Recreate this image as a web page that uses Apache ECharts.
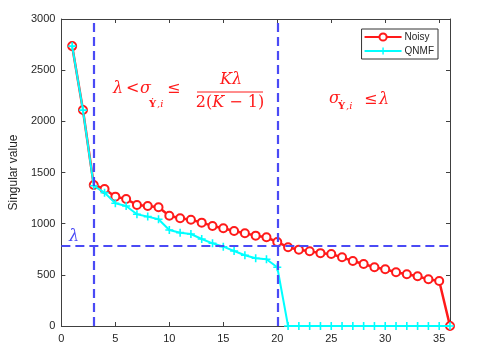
<!DOCTYPE html>
<html><head><meta charset="utf-8">
<script src="https://cdn.jsdelivr.net/npm/echarts@6/dist/echarts.min.js"></script>
<style>html,body{margin:0;padding:0;background:#fff}#c{width:479px;height:359px}</style>
</head><body><div id="c"></div>
<script>
const idx = [1,2,3,4,5,6,7,8,9,10,11,12,13,14,15,16,17,18,19,20,21,22,23,24,25,26,27,28,29,30,31,32,33,34,35,36];
const noisy = [2735,2110,1378,1339,1264,1241,1183,1173,1160,1078,1053,1039,1010,978,955,929,906,883,867,821,769,746,730,712,704,671,635,606,574,554,525,505,486,456,440,0];
const qnmf = [2735,2110,1370,1303,1199,1173,1092,1069,1043,938,912,899,850,808,775,733,691,662,652,574,0,0,0,0,0,0,0,0,0,0,0,0,0,0,0,0];
const lambdaVal = 782;
const vLines = [3, 20];

const chart = echarts.init(document.getElementById('c'));
const axisCol = '#404040';
const txtCol = '#262626';
const blue = '#4a4af5';
const red = '#ff1a1a';
const plusPath = 'path://M4,0H6V4H10V6H6V10H4V6H0V4H4Z';
const serif = '"DejaVu Serif", "Liberation Serif", serif';

function t(x, y, s, opts) {
  return Object.assign({type:'text', x:x, y:y, style:Object.assign({text:s, fill:red, font:'italic 16px ' + serif, textVerticalAlign:'middle'}, opts || {})});
}
const g = [];
// first annotation
g.push(t(113, 89, 'λ'));
g.push(t(126, 89, '<', {font:'16px ' + serif}));
g.push(t(140, 89, 'σ'));
g.push(t(149, 104, 'Ẏ', {font:'bold 10px ' + serif}));
g.push(t(157, 104, ',i', {font:'italic 10px ' + serif}));
g.push(t(167, 89, '≤', {font:'16px ' + serif}));
g.push({type:'line', shape:{x1:197, y1:92, x2:263, y2:92}, style:{stroke:red, lineWidth:1}});
g.push(t(231, 80, 'Kλ', {textAlign:'center'}));
g.push({type:'text', x:230, y:103, style:{
  text:'{u|2(}{i|K}{u| − 1)}', textAlign:'center', textVerticalAlign:'middle',
  rich:{u:{fontFamily:serif, fontSize:16, fill:red, color:red}, i:{fontFamily:serif, fontSize:16, fontStyle:'italic', fill:red, color:red}}
}});
// second
g.push(t(329, 99, 'σ'));
g.push(t(338, 106, 'Ẏ', {font:'bold 10px ' + serif}));
g.push(t(346, 106, ',i', {font:'italic 10px ' + serif}));
g.push(t(364, 100, '≤', {font:'16px ' + serif}));
g.push(t(379, 100, 'λ'));
// blue lambda
g.push(t(69, 237, 'λ', {fill:blue}));

const xAxisBase = {type:'value', min:0, max:36, interval:5,
  axisLine:{show:true, onZero:false, lineStyle:{color:axisCol}},
  axisTick:{show:true, inside:true, length:4, lineStyle:{color:axisCol}},
  splitLine:{show:false}};
const yAxisBase = {type:'value', min:0, max:3000, interval:500,
  axisLine:{show:true, onZero:false, lineStyle:{color:axisCol}},
  axisTick:{show:true, inside:true, length:4, lineStyle:{color:axisCol}},
  splitLine:{show:false}};

chart.setOption({
  animation:false,
  backgroundColor:'#fff',
  grid:{left:59, right:29, top:19, bottom:33, containLabel:false},
  xAxis:[
    Object.assign({}, xAxisBase, {position:'bottom', axisLabel:{color:txtCol, fontSize:11, fontFamily:'Liberation Sans, Arial', margin:7, showMaxLabel:false}}),
    Object.assign({}, xAxisBase, {position:'top', axisLabel:{show:false}})
  ],
  yAxis:[
    Object.assign({}, yAxisBase, {position:'left', name:'Singular value', nameLocation:'middle', nameGap:37,
      nameTextStyle:{color:txtCol, fontSize:12, fontFamily:'Liberation Sans, Arial'},
      axisLabel:{color:txtCol, fontSize:11, fontFamily:'Liberation Sans, Arial', margin:6, formatter:v=>String(v)}}),
    Object.assign({}, yAxisBase, {position:'right', axisLabel:{show:false}})
  ],
  legend:{orient:'vertical', right:41, top:29, padding:[3,4,3,2], itemGap:4, itemWidth:37, itemHeight:9,
    backgroundColor:'#fff', borderColor:'#333', borderWidth:1, borderRadius:0,
    textStyle:{color:txtCol, fontSize:10, fontFamily:'Liberation Sans, Arial', padding:[0,0,0,-2]},
    data:['Noisy','QNMF']},
  series:[
    {name:'Noisy', type:'line', data: idx.map((x,i)=>[x, noisy[i]]), symbol:'emptyCircle', symbolSize:8,
      lineStyle:{color:red, width:2.5}, itemStyle:{color:red, borderWidth:2}, z:3,
      markLine:{silent:true, symbol:'none', label:{show:false},
        lineStyle:{color:blue, type:[9,5], width:2.2},
        data: vLines.map(v=>({xAxis:v})).concat([{yAxis:lambdaVal}])}},
    {name:'QNMF', type:'line', data: idx.map((x,i)=>[x, qnmf[i]]), symbol:plusPath, symbolSize:8,
      lineStyle:{color:'#00ffff', width:2}, itemStyle:{color:'#00ffff'}, z:4}
  ],
  graphic:g
});
</script></body></html>
